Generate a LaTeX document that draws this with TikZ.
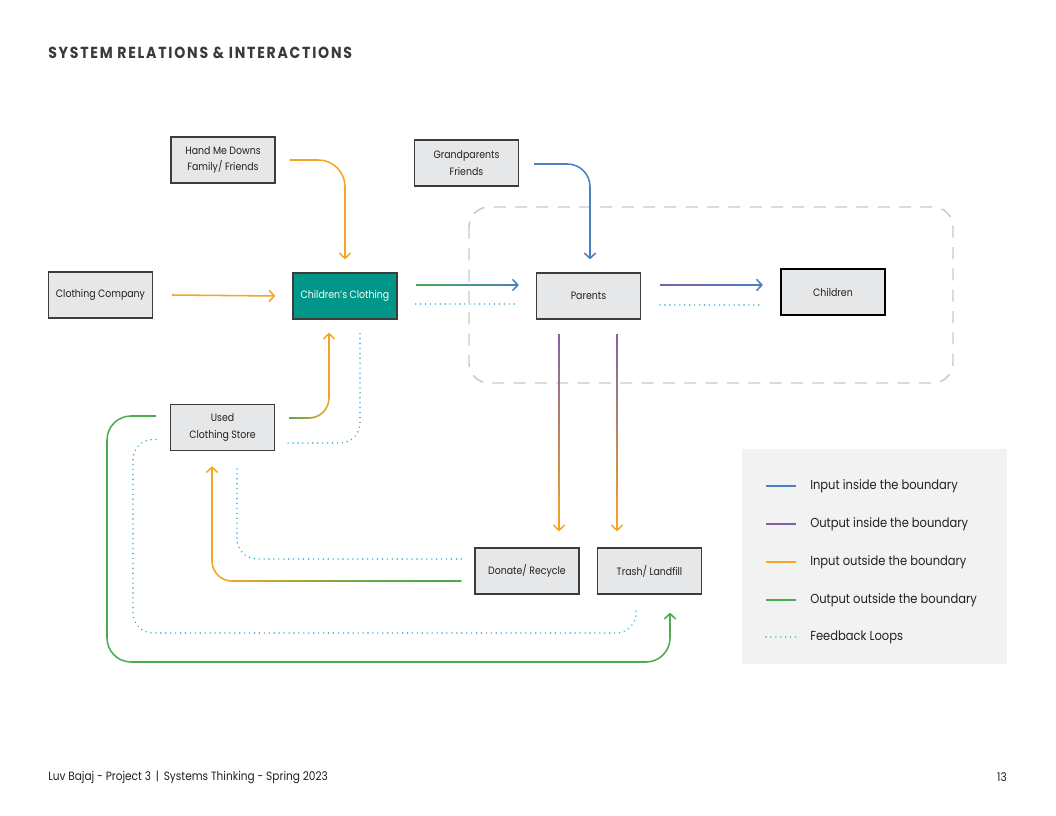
\documentclass[tikz,border=0pt]{standalone}
\usepackage{fontspec}
\setmainfont{Poppins}[FakeStretch=0.88]
\usetikzlibrary{arrows.meta,calc,fadings}
\definecolor{cOrange}{HTML}{F5A623}
\definecolor{cBlue}{HTML}{4A80C2}
\definecolor{cPurple}{HTML}{7E62AB}
\definecolor{cGreen}{HTML}{4CAA4F}
\definecolor{cDot}{HTML}{2BA8DE}
\definecolor{cTeal}{HTML}{00978A}
\definecolor{boxfill}{HTML}{E6E7E8}
\definecolor{boxline}{HTML}{3C3C3C}
\definecolor{txt}{HTML}{231F20}
\definecolor{legbg}{HTML}{F1F2F1}
\definecolor{bnd}{HTML}{C8C8C8}
\definecolor{titlecol}{HTML}{3A3A3A}
\tikzfading[name=fadeR, left color=transparent!0, right color=transparent!100]
\tikzfading[name=fadeL, left color=transparent!100, right color=transparent!0]
\tikzfading[name=fadeD, top color=transparent!0, bottom color=transparent!100]
\begin{document}
\begin{tikzpicture}[x=0.75pt,y=-0.75pt,
  box/.style={draw=boxline, fill=boxfill, line width=0.9pt, minimum width=78pt, minimum height=34.5pt, inner sep=0pt, font=\fontsize{8}{12.5}\selectfont, text=txt, align=center},
  conn/.style={line width=1.15pt},
  arr/.style={-{Straight Barb[length=4pt,width=8.5pt]}},
  fb/.style={draw=cDot, line width=1.2pt, dash pattern=on 0pt off 3.7pt, line cap=round},
  leg/.style={anchor=west, inner sep=0pt, font=\fontsize{9.8}{12}\selectfont, text=txt},
]
\useasboundingbox (0,0) rectangle (1056,816);
\fill[white] (0,0) rectangle (1056,816);

% title and footer
\node[anchor=base west, inner sep=0pt, text=titlecol, font=\fontsize{12}{14}\selectfont\bfseries\addfontfeature{LetterSpace=11}] (title) at (48,59) {SYSTEM RELATIONS \& INTERACTIONS};
\node[anchor=west, inner sep=0pt, text=txt, font=\fontsize{9}{11}\selectfont] (foot) at (48,777) {Luv Bajaj - Project 3 \,|\, Systems Thinking - Spring 2023};
\node[anchor=east, inner sep=0pt, text=txt, font=\fontsize{9}{11}\selectfont] (page) at (1007,777) {13};

% boundary
\draw[bnd, line width=1.1pt, dash pattern=on 9pt off 7pt, rounded corners=15pt] (469,207) rectangle (953,383);

% legend
\fill[legbg] (742,449) rectangle (1007,664);
\draw[conn, cBlue] (766,486) -- (796,486);
\node[leg] (l1) at (810,486) {Input inside the boundary};
\draw[conn, cPurple] (766,524) -- (796,524);
\node[leg] (l2) at (810,524) {Output inside the boundary};
\draw[conn, cOrange] (766,562) -- (796,562);
\node[leg] (l3) at (810,562) {Input outside the boundary};
\draw[conn, cGreen] (766,600) -- (796,600);
\node[leg] (l4) at (810,600) {Output outside the boundary};
\draw[fb] (766,637) -- (796,637);
\node[leg] (l5) at (810,637) {Feedback Loops};

% nodes
\node[box] (hmd) at (223,160) {Hand Me Downs\\Family/ Friends};
\node[box] (gpf) at (466.5,163) {Grandparents\\Friends};
\node[box] (cco) at (100.5,295) {Clothing Company};
\node[box, fill=cTeal, text=white] (chc) at (345,296) {Children’s Clothing};
\node[box] (par) at (588.5,296) {Parents};
\node[box, draw=black, line width=1.6pt] (chi) at (833,292) {Children};
\node[box] (ucs) at (222.5,427.5) {Used\\Clothing Store};
\node[box] (don) at (527,571) {Donate/ Recycle};
\node[box] (tra) at (649.5,571) {Trash/ Landfill};

% Hand me downs -> Children's clothing
\draw[conn, cOrange, arr, rounded corners=20pt] ($(hmd.east)+(14,0)$) -| ($(chc.north)+(0,-13)$);
% Clothing company -> Children's clothing
\draw[conn, cOrange, arr] ($(cco.east)+(19,0)$) -- ($(chc.west)+(-17,0)$);
% Children's clothing -> Parents
\coordinate (a3) at ($(chc.east)+(18,-11)$);
\coordinate (b3) at ($(par.west)+(-17,-11)$);
\draw[conn, cBlue, arr] (a3) -- (b3);
\draw[conn, cGreen, path fading=fadeR] ($(a3)+(0,-4)$) ($(a3)+(0,4)$) (a3) -- ($(b3)+(-3,0)$);
\draw[fb] ($(chc.east)+(18,8)$) -- ($(par.west)+(-17,8)$);
% Grandparents -> Parents
\draw[conn, cBlue, arr, rounded corners=17pt] ($(gpf.east)+(15,1)$) -| ($(par.north)+(1.5,-13)$);
% Parents -> Children
\coordinate (a5) at ($(par.east)+(19,-11)$);
\coordinate (b5) at ($(chi.west)+(-17,-7)$);
\draw[conn, cBlue, arr] (a5) -- (b5);
\draw[conn, cPurple, path fading=fadeR] ($(a5)+(0,-4)$) ($(a5)+(0,4)$) (a5) -- ($(b5)+(-3,0)$);
\draw[fb] ($(par.east)+(19,9)$) -- ($(chi.west)+(-17,13)$);
% Parents -> Donate
\coordinate (a6) at ($(par.south)+(-29.5,14)$);
\coordinate (d6) at ($(don.north)+(0,-16)$);
\coordinate (b6) at (a6 |- d6);
\draw[conn, cOrange, arr] (a6) -- (b6);
\draw[conn, cPurple, path fading=fadeD] ($(a6)+(-4,0)$) ($(a6)+(4,0)$) (a6) -- ($(b6)+(0,-3)$);
% Parents -> Trash
\coordinate (a7) at ($(par.south)+(28.5,14)$);
\coordinate (d7) at ($(tra.north)+(0,-16)$);
\coordinate (b7) at (a7 |- d7);
\draw[conn, cOrange, arr] (a7) -- (b7);
\draw[conn, cPurple, path fading=fadeD] ($(a7)+(-4,0)$) ($(a7)+(4,0)$) (a7) -- ($(b7)+(0,-3)$);
% Used clothing -> Children's clothing
\coordinate (a8) at ($(ucs.east)+(14,-9.5)$);
\coordinate (b8) at ($(chc.south)+(-16,13)$);
\draw[conn, cOrange, arr, rounded corners=15pt] (a8) -| (b8);
\draw[conn, cGreen, path fading=fadeR, rounded corners=15pt] (a8) -| ($(b8)+(0,3)$);
% feedback Children's clothing -> Used clothing
\draw[fb, rounded corners=15pt] ($(chc.south)+(15,14)$) |- ($(ucs.east)+(12,15.5)$);
% Donate -> Used clothing
\coordinate (a10) at ($(don.west)+(-13,10)$);
\coordinate (b10) at ($(ucs.south)+(-10.5,15)$);
\draw[conn, cOrange, arr, rounded corners=15pt] (a10) -| (b10);
\draw[conn, cGreen, path fading=fadeL, rounded corners=15pt] (a10) -| ($(b10)+(0,3)$);
\draw[conn, cGreen, path fading=fadeL] ($(a10)+(0,-4)$) ($(a10)+(0,4)$) (a10) -- ($(a10)+(-200,0)$);
% feedback Donate -> Used clothing
\draw[fb, rounded corners=15pt] ($(don.west)+(-13,-12)$) -| ($(ucs.south)+(14.5,16)$);
% Used clothing -> Trash
\coordinate (g1) at (107,662);
\draw[conn, cGreen, arr, rounded corners=18pt] ($(ucs.west)+(-14,-11.5)$) -| (g1) -| ($(tra.south)+(20.5,18)$);
% feedback Trash -> Used clothing
\coordinate (f1) at (133,633);
\draw[fb, rounded corners=15pt] ($(ucs.west)+(-14,12)$) -| (f1) -| ($(tra.south)+(-13.5,14)$);
\end{tikzpicture}
\end{document}
